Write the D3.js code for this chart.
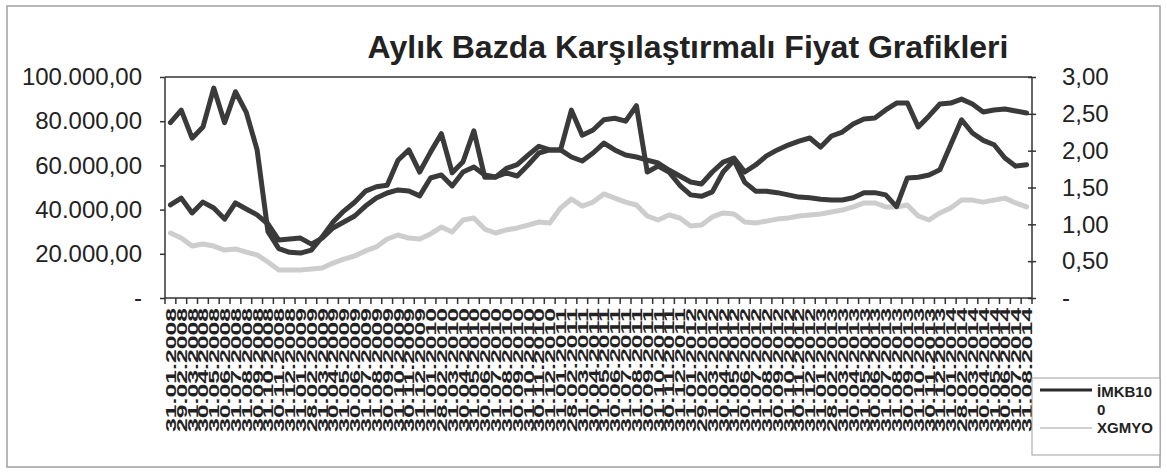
<!DOCTYPE html>
<meta charset="utf-8">
<style>
  body{ margin:0; background:#fff; }
  text{ font-family: "Liberation Sans", Arial, Helvetica, sans-serif; fill:#222; }
  .title{ font-size:32px; font-weight:bold; }
  .axis text{ font-size:24px; }
  .axis path, .axis line{ stroke:#333; stroke-width:1.5; }
  .xlab{ font-size:15px; font-weight:bold; }
  .legend text{ font-size:15px; font-weight:bold; }
  .line{ fill:none; stroke-linejoin:round; stroke-linecap:round; }
</style>
<body>
<div id="container"></div>
<script src="https://d3js.org/d3.v7.min.js"></script>
<script>

// month-end dates, one per point
var dates = [
  '31.01.2008','29.02.2008','31.03.2008','30.04.2008','31.05.2008','30.06.2008','31.07.2008','31.08.2008','30.09.2008','31.10.2008','30.11.2008','31.12.2008',
  '31.01.2009','28.02.2009','31.03.2009','30.04.2009','31.05.2009','30.06.2009','31.07.2009','31.08.2009','30.09.2009','31.10.2009','30.11.2009','31.12.2009',
  '31.01.2010','28.02.2010','31.03.2010','30.04.2010','31.05.2010','30.06.2010','31.07.2010','31.08.2010','30.09.2010','31.10.2010','30.11.2010','31.12.2010',
  '31.01.2011','28.02.2011','31.03.2011','30.04.2011','31.05.2011','30.06.2011','31.07.2011','31.08.2011','30.09.2011','31.10.2011','30.11.2011','31.12.2011',
  '31.01.2012','29.02.2012','31.03.2012','30.04.2012','31.05.2012','30.06.2012','31.07.2012','31.08.2012','30.09.2012','31.10.2012','30.11.2012','31.12.2012',
  '31.01.2013','28.02.2013','31.03.2013','30.04.2013','31.05.2013','30.06.2013','31.07.2013','31.08.2013','30.09.2013','31.10.2013','30.11.2013','31.12.2013',
  '31.01.2014','28.02.2014','31.03.2014','30.04.2014','31.05.2014','30.06.2014','31.07.2014','31.08.2014'
];

// İMKB100 (left axis)
var imkb100 = [
  42100,45200,38500,43400,40700,35700,43000,40300,37600,33500,26200,26700,
  27100,24400,27100,31700,34400,37100,41600,45200,47500,48900,48400,46200,
  54300,55700,50700,57000,59300,55700,54800,56600,55200,60200,65600,67000,
  67000,63800,62000,65600,70100,67000,64700,63800,62400,61100,57900,55200,
  52500,51600,57000,61500,63300,57000,60200,64300,67000,69200,71000,72400,
  68300,73300,75100,78700,81000,81400,85100,88200,88200,77400,82400,87800,
  88200,90000,87800,84200,85100,85500,84600,83700
];

// hisse fiyatı (right axis, not in legend)
var hisse = [
  2.38,2.55,2.17,2.32,2.85,2.38,2.80,2.52,2.01,0.90,0.67,0.62,
  0.61,0.65,0.83,1.03,1.18,1.30,1.45,1.51,1.53,1.87,2.01,1.71,
  1.98,2.23,1.70,1.85,2.27,1.64,1.64,1.76,1.81,1.94,2.06,2.01,
  2.01,2.55,2.21,2.28,2.42,2.44,2.40,2.61,1.71,1.79,1.71,1.53,
  1.40,1.38,1.44,1.71,1.87,1.57,1.45,1.45,1.43,1.40,1.37,1.36,
  1.34,1.33,1.33,1.36,1.43,1.43,1.40,1.24,1.63,1.64,1.67,1.74,
  2.08,2.42,2.24,2.14,2.08,1.90,1.79,1.81
];

// XGMYO (left axis)
var xgmyo = [
  29400,27100,23500,24400,23500,21700,22200,20800,19500,16300,12700,12700,
  12700,13100,13600,15800,17600,19000,21300,23100,26700,28500,27100,26700,
  29000,32100,29900,35300,36200,31200,29400,30800,31700,33000,34400,33900,
  40700,44800,41600,43400,47100,45200,43400,42100,37100,35300,37600,36200,
  32600,33000,36700,38500,38000,34400,33900,34800,35700,36200,37100,37600,
  38000,38900,39800,41200,43000,43000,41200,41200,42100,37100,35300,38500,
  40700,44300,44300,43400,44300,45200,43000,41200
];

var leftTicks = [0,20000,40000,60000,80000,100000];
var rightTicks = [0,0.5,1,1.5,2,2.5,3];
var legendNames = ['İMKB10','0','XGMYO'];

var W = 1167, H = 476;
var m = {left:165, right:1032, top:77, bottom:298};

var svg = d3.select('#container').append('svg').attr('width',W).attr('height',H);

svg.append('rect').attr('x',7).attr('y',6).attr('width',1153).attr('height',461)
  .attr('fill','#fff').attr('stroke','#a0a0a0').attr('stroke-width',1.5);

var tr = d3.formatLocale({decimal:',', thousands:'.', grouping:[3], currency:['','']});
var fmt = tr.format(',.2f');

var x = d3.scaleBand().domain(dates).range([m.left, m.right]);
var xc = function(d){ return x(d) + x.bandwidth()/2; };
var yL = d3.scaleLinear().domain([0,100000]).range([m.bottom, m.top]);
var yR = d3.scaleLinear().domain([0,3]).range([m.bottom, m.top]);

svg.append('text').attr('class','title').attr('x',688).attr('y',58)
  .attr('text-anchor','middle').text('Aylık Bazda Karşılaştırmalı Fiyat Grafikleri');

// plot frame (top line)
svg.append('line').attr('x1',m.left).attr('x2',m.right).attr('y1',m.top).attr('y2',m.top)
  .attr('stroke','#333').attr('stroke-width',1.5);

var gl = svg.append('g').attr('class','axis').attr('transform','translate('+m.left+',0)')
  .call(d3.axisLeft(yL).tickValues(leftTicks).tickSize(5).tickPadding(18)
    .tickFormat(function(d){ return d === 0 ? '-' : fmt(d); }));
gl.select('.domain').attr('d','M0,'+m.top+'V'+m.bottom);

var gr = svg.append('g').attr('class','axis').attr('transform','translate('+m.right+',0)')
  .call(d3.axisRight(yR).tickValues(rightTicks).tickSize(4).tickPadding(26)
    .tickFormat(function(d){ return d === 0 ? '-' : fmt(d); }));
gr.select('.domain').attr('d','M0,'+m.top+'V'+m.bottom);
gr.selectAll('.tick line').attr('x1',-4).attr('x2',4);

var gx = svg.append('g').attr('class','axis').attr('transform','translate(0,'+m.bottom+')');
gx.append('line').attr('x1',m.left).attr('x2',m.right).attr('stroke','#333').attr('stroke-width',1.5);
gx.selectAll('line.tk').data(dates.concat(['end'])).enter().append('line').attr('class','tk')
  .attr('x1',function(d,i){ return m.left + i*x.bandwidth(); })
  .attr('x2',function(d,i){ return m.left + i*x.bandwidth(); })
  .attr('y1',0).attr('y2',6).attr('stroke','#333').attr('stroke-width',1.2);

svg.append('g').selectAll('text').data(dates).enter().append('text')
  .attr('class','xlab')
  .attr('transform',function(d){ return 'translate('+(xc(d)+5.5)+',308) rotate(-90)'; })
  .attr('text-anchor','end')
  .attr('textLength',124).attr('lengthAdjust','spacingAndGlyphs')
  .text(function(d){ return d; });

var lineL = d3.line().x(function(d,i){ return xc(dates[i]); }).y(function(d){ return yL(d); });
var lineR = d3.line().x(function(d,i){ return xc(dates[i]); }).y(function(d){ return yR(d); });

svg.append('path').attr('class','line').attr('d',lineL(xgmyo))
  .attr('stroke','#cdcdcd').attr('stroke-width',5);
svg.append('path').attr('class','line').attr('d',lineR(hisse))
  .attr('stroke','#3a3a3a').attr('stroke-width',5);
svg.append('path').attr('class','line').attr('d',lineL(imkb100))
  .attr('stroke','#3a3a3a').attr('stroke-width',5);

// legend
var lg = svg.append('g').attr('class','legend');
lg.append('rect').attr('x',1032).attr('y',378).attr('width',128).attr('height',77)
  .attr('fill','#fff').attr('stroke','#a0a0a0').attr('stroke-width',1);
lg.append('line').attr('x1',1040).attr('x2',1092).attr('y1',390).attr('y2',390)
  .attr('stroke','#2a2a2a').attr('stroke-width',3);
lg.append('line').attr('x1',1040).attr('x2',1092).attr('y1',428).attr('y2',428)
  .attr('stroke','#c0c0c0').attr('stroke-width',1.5);
lg.selectAll('text').data(legendNames).enter().append('text')
  .attr('x',1097).attr('y',function(d,i){ return 397 + i*18; })
  .text(function(d){ return d; });

</script>
</body>
</html>
